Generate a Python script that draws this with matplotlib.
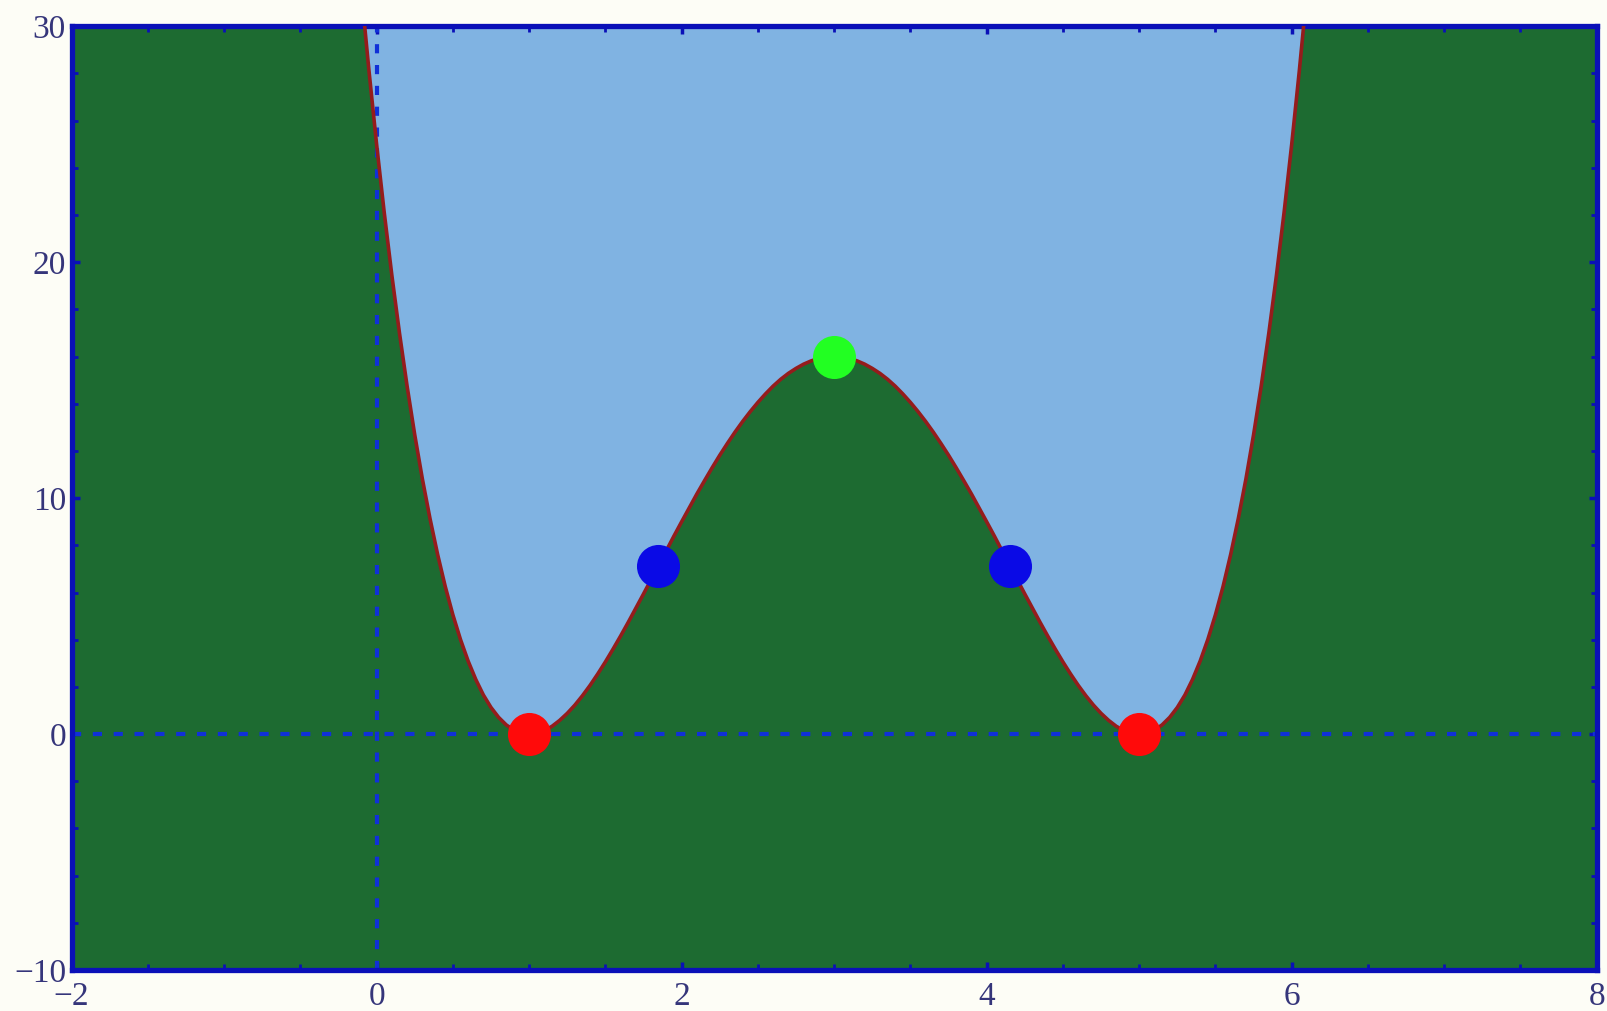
import matplotlib
matplotlib.use("Agg")
import matplotlib.pyplot as plt
from matplotlib.ticker import MultipleLocator

# curve samples
curve_x = [-0.10, -0.05, 0.00, 0.05, 0.10, 0.15, 0.20, 0.25, 0.30, 0.35, 0.40, 0.45,
           0.50, 0.55, 0.60, 0.65, 0.70, 0.75, 0.80, 0.85, 0.90, 0.95, 1.00,
           1.05, 1.10, 1.15, 1.20, 1.25, 1.30, 1.35, 1.40, 1.45, 1.50,
           1.55, 1.60, 1.65, 1.70, 1.75, 1.80, 1.85, 1.90, 1.95, 2.00,
           2.05, 2.10, 2.15, 2.20, 2.25, 2.30, 2.35, 2.40, 2.45, 2.50,
           2.55, 2.60, 2.65, 2.70, 2.75, 2.80, 2.85, 2.90, 2.95, 3.00,
           3.05, 3.10, 3.15, 3.20, 3.25, 3.30, 3.35, 3.40, 3.45, 3.50,
           3.55, 3.60, 3.65, 3.70, 3.75, 3.80, 3.85, 3.90, 3.95, 4.00,
           4.05, 4.10, 4.15, 4.20, 4.25, 4.30, 4.35, 4.40, 4.45, 4.50,
           4.55, 4.60, 4.65, 4.70, 4.75, 4.80, 4.85, 4.90, 4.95, 5.00,
           5.05, 5.10, 5.15, 5.20, 5.25, 5.30, 5.35, 5.40, 5.45, 5.50,
           5.55, 5.60, 5.65, 5.70, 5.75, 5.80, 5.85, 5.90, 5.95, 6.00,
           6.05, 6.10]
curve_y = [31.47, 28.12, 25.00, 22.11, 19.45, 17.00, 14.75, 12.69, 10.82, 9.14, 7.62, 6.26,
           5.06, 4.01, 3.10, 2.32, 1.66, 1.13, 0.71, 0.39, 0.17, 0.04, 0.00,
           0.04, 0.15, 0.33, 0.58, 0.88, 1.23, 1.63, 2.07, 2.55, 3.06,
           3.60, 4.16, 4.74, 5.34, 5.94, 6.55, 7.17, 7.78, 8.40, 9.00,
           9.59, 10.18, 10.74, 11.29, 11.82, 12.32, 12.80, 13.25, 13.67, 14.06,
           14.42, 14.75, 15.04, 15.29, 15.50, 15.68, 15.82, 15.92, 15.98, 16.00,
           15.98, 15.92, 15.82, 15.68, 15.50, 15.29, 15.04, 14.75, 14.42, 14.06,
           13.67, 13.25, 12.80, 12.32, 11.82, 11.29, 10.74, 10.18, 9.59, 9.00,
           8.40, 7.78, 7.17, 6.55, 5.94, 5.34, 4.74, 4.16, 3.60, 3.06,
           2.55, 2.07, 1.63, 1.23, 0.88, 0.58, 0.33, 0.15, 0.04, 0.00,
           0.04, 0.17, 0.39, 0.71, 1.13, 1.66, 2.32, 3.10, 4.01, 5.06,
           6.26, 7.62, 9.14, 10.82, 12.69, 14.75, 17.00, 19.45, 22.11, 25.00,
           28.12, 31.47]

roots_x = [1.0, 5.0]
roots_y = [0.0, 0.0]
inflect_x = [1.845, 4.155]
inflect_y = [7.11, 7.11]
peak_x = [3.0]
peak_y = [16.0]

xticks = [-2, 0, 2, 4, 6, 8]
yticks = [-10, 0, 10, 20, 30]
xticklabels = ["\u22122", "0", "2", "4", "6", "8"]
yticklabels = ["\u221210", "0", "10", "20", "30"]

GREEN = "#1d6b31"
LIGHTBLUE = "#80b3e2"
FRAME = "#0a10b8"
LABEL = "#35357a"

fig = plt.figure(figsize=(16.08, 10.11), dpi=100, facecolor="#fdfdf6")
ax = fig.add_axes([0.0445, 0.0405, 0.9485, 0.9335])
ax.set_facecolor(GREEN)
ax.set_xlim(-2, 8)
ax.set_ylim(-10, 30)

ax.fill_between(curve_x, curve_y, 30, color=LIGHTBLUE, linewidth=0, zorder=1)
ax.plot(curve_x, curve_y, color="#951c1c", linewidth=2.6, zorder=3,
        solid_joinstyle="round")

ax.axhline(0, color="#1030d8", linewidth=3.0, dashes=(2.2, 2.8), zorder=2)
ax.axvline(0, color="#1030d8", linewidth=3.0, dashes=(2.2, 2.8), zorder=2)

ax.plot(roots_x, roots_y, "o", color="#ff0a0a", markersize=31, markeredgewidth=0, zorder=5)
ax.plot(inflect_x, inflect_y, "o", color="#0a0ae6", markersize=31, markeredgewidth=0, zorder=5)
ax.plot(peak_x, peak_y, "o", color="#22ff22", markersize=31, markeredgewidth=0, zorder=5)

for s in ax.spines.values():
    s.set_color(FRAME)
    s.set_linewidth(3.8)

ax.set_xticks(xticks)
ax.set_yticks(yticks)
ax.set_xticklabels(xticklabels)
ax.set_yticklabels(yticklabels)
ax.xaxis.set_minor_locator(MultipleLocator(0.5))
ax.yaxis.set_minor_locator(MultipleLocator(2))
ax.tick_params(which="both", direction="in", color=FRAME, top=True, right=True)
ax.tick_params(which="major", length=6, width=2.5)
ax.tick_params(which="minor", length=4, width=2)
ax.tick_params(axis="both", which="major", labelsize=24, labelcolor=LABEL)
ax.tick_params(axis="x", which="major", pad=8)
ax.tick_params(axis="y", which="major", pad=4)
for lab in ax.get_xticklabels() + ax.get_yticklabels():
    lab.set_family(["Liberation Serif", "DejaVu Serif"])

fig.savefig("out.png", dpi=100, facecolor=fig.get_facecolor())
